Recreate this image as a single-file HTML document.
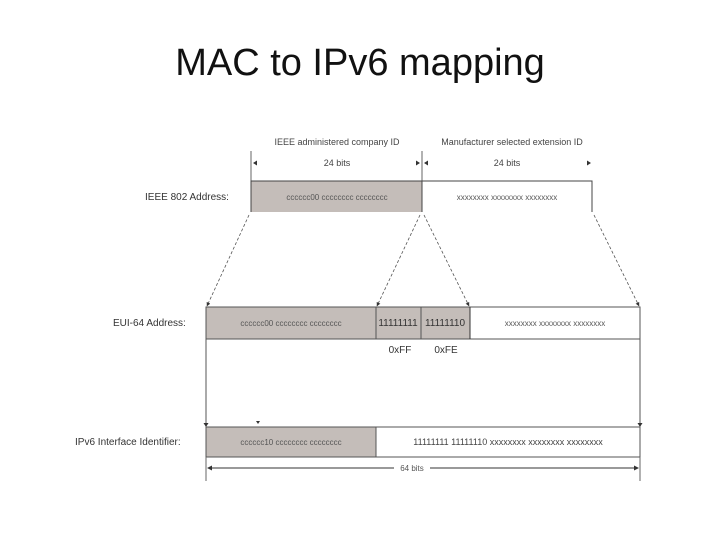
<!DOCTYPE html>
<html><head><meta charset="utf-8"><style>
body{margin:0;width:720px;height:540px;background:#fff;overflow:hidden;font-family:"Liberation Sans",sans-serif}
.t{position:absolute;top:42px;left:0;width:720px;text-align:center;font-size:38px;color:#111}
</style></head><body>
<div class="t">MAC to IPv6 mapping</div>
<svg width="720" height="540" style="position:absolute;left:0;top:0" font-family="Liberation Sans, sans-serif">
<defs><marker id="a" viewBox="0 0 10 10" refX="9" refY="5" markerWidth="5" markerHeight="5" orient="auto"><path d="M0,0L10,5L0,10z" fill="#333"/></marker></defs>
<g font-size="9" fill="#444" text-anchor="middle">
<text x="337" y="145">IEEE administered company ID</text>
<text x="512" y="145">Manufacturer selected extension ID</text>
<text x="337" y="166">24 bits</text>
<text x="507" y="166">24 bits</text>
</g>
<g stroke="#666" stroke-width="1" fill="none">
<line x1="251" y1="151" x2="251" y2="181"/><line x1="422" y1="151" x2="422" y2="181"/>
</g>
<g fill="#333"><path d="M253,163l4,-2.5v5z"/><path d="M420,163l-4,-2.5v5z"/><path d="M424,163l4,-2.5v5z"/><path d="M591,163l-4,-2.5v5z"/></g>
<rect x="251" y="181" width="171" height="31" fill="#c4bdb9"/>
<path d="M251,212V181H592V212" fill="none" stroke="#444"/>
<line x1="422" y1="181" x2="422" y2="212" stroke="#444"/>
<text x="145" y="200" font-size="10" fill="#333">IEEE 802 Address:</text>
<g font-size="8" fill="#555" text-anchor="middle"><text x="337" y="200">cccccc00 cccccccc cccccccc</text><text x="507" y="200">xxxxxxxx xxxxxxxx xxxxxxxx</text></g>
<g stroke="#555" stroke-width="0.8" stroke-dasharray="3,2" fill="none" marker-end="url(#a)">
<line x1="249" y1="215" x2="207" y2="306"/><line x1="420" y1="215" x2="377" y2="306"/>
<line x1="424" y1="215" x2="469" y2="306"/><line x1="594" y1="215" x2="639" y2="306"/>
</g>
<rect x="206" y="307" width="264" height="32" fill="#c4bdb9"/>
<rect x="206" y="307" width="434" height="32" fill="none" stroke="#555"/>
<line x1="376" y1="307" x2="376" y2="339" stroke="#555"/><line x1="421" y1="307" x2="421" y2="339" stroke="#555"/><line x1="470" y1="307" x2="470" y2="339" stroke="#333"/>
<text x="113" y="326" font-size="10" fill="#333">EUI-64 Address:</text>
<g font-size="8" fill="#555" text-anchor="middle"><text x="291" y="326">cccccc00 cccccccc cccccccc</text><text x="555" y="326">xxxxxxxx xxxxxxxx xxxxxxxx</text></g>
<g font-size="10" fill="#333" text-anchor="middle"><text x="398" y="326">11111111</text><text x="445" y="326">11111110</text><text x="400" y="353">0xFF</text><text x="446" y="353">0xFE</text></g>
<line x1="206" y1="339" x2="206" y2="426" stroke="#555"/><line x1="640" y1="339" x2="640" y2="426" stroke="#555"/>
<path d="M206,427l-2.5,-4h5z" fill="#333"/><path d="M640,427l-2.5,-4h5z" fill="#333"/><path d="M258,424l-2,-3h4z" fill="#333"/>
<rect x="206" y="427" width="170" height="30" fill="#c4bdb9"/>
<rect x="206" y="427" width="434" height="30" fill="none" stroke="#555"/>
<line x1="376" y1="427" x2="376" y2="457" stroke="#555"/>
<text x="75" y="445" font-size="10" fill="#333">IPv6 Interface Identifier:</text>
<g font-size="8" fill="#555" text-anchor="middle"><text x="291" y="445">cccccc10 cccccccc cccccccc</text></g>
<text x="508" y="445" font-size="9" fill="#444" text-anchor="middle">11111111 11111110 xxxxxxxx xxxxxxxx xxxxxxxx</text>
<line x1="206" y1="457" x2="206" y2="481" stroke="#666"/><line x1="640" y1="457" x2="640" y2="481" stroke="#666"/>
<line x1="208" y1="468" x2="394" y2="468" stroke="#333"/><line x1="430" y1="468" x2="638" y2="468" stroke="#333"/>
<path d="M207,468l5,-2.5v5z" fill="#333"/><path d="M639,468l-5,-2.5v5z" fill="#333"/>
<text x="412" y="471" font-size="8" fill="#555" text-anchor="middle">64 bits</text>
</svg>
</body></html>
